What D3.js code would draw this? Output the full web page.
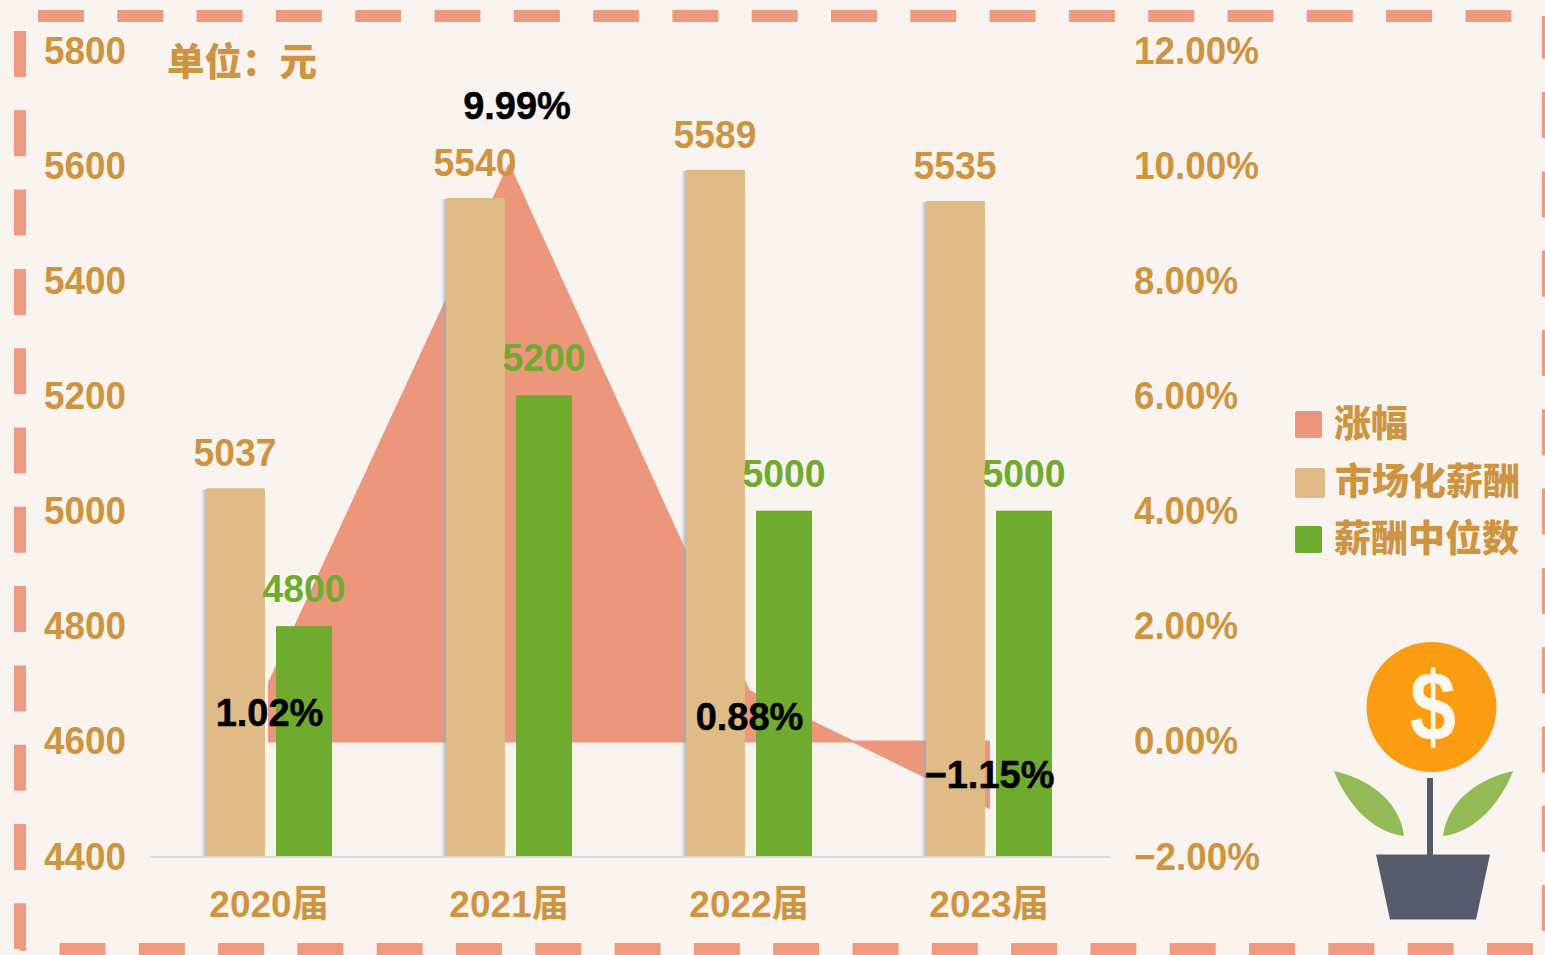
<!DOCTYPE html>
<html><head><meta charset="utf-8">
<script src="https://cdnjs.cloudflare.com/ajax/libs/d3/7.8.5/d3.min.js"></script>
<style>
html,body{margin:0;padding:0;background:#FAF4F0;overflow:hidden}
text{font-family:"Liberation Sans","Noto Sans CJK SC",sans-serif}
</style></head><body><svg id="c" width="1545" height="955"></svg>
<script>
const categories=["2020届","2021届","2022届","2023届"];
const marketPay=[5037,5540,5589,5535];
const medianPay=[4800,5200,5000,5000];
const growth=[1.02,9.99,0.88,-1.15];
const growthLabels=["1.02%","9.99%","0.88%","−1.15%"];
const leftTicks=[4400,4600,4800,5000,5200,5400,5600,5800];
const rightTicks=[-2,0,2,4,6,8,10,12];
const legendNames=["涨幅","市场化薪酬","薪酬中位数"];
const gold="#CE9440",tan="#E0BA87",green="#6FAB2E",salmon="#EC977C",dash="#EF9980";

const svg=d3.select("#c");
const defs=svg.append("defs");
const g=defs.append("linearGradient").attr("id","sh");
g.append("stop").attr("offset",0).attr("stop-color","#86AEC8").attr("stop-opacity",0);
g.append("stop").attr("offset",.5).attr("stop-color","#86AEC8").attr("stop-opacity",.45);
g.append("stop").attr("offset",1).attr("stop-color","#86AEC8").attr("stop-opacity",.9);

const x=d3.scaleBand().domain(categories).range([149,1109]);
const cx=c=>x(c)+x.bandwidth()/2;
const yL=d3.scaleLinear().domain([4400,5800]).range([857,49]);
const yR=d3.scaleLinear().domain([-2,12]).range([857,49]);

// area
const rows=categories.map((c,i)=>({c,m:marketPay[i],d:medianPay[i],g:growth[i],l:growthLabels[i]}));
svg.append("path").datum(rows)
 .attr("d",d3.area().x(d=>cx(d.c)).y0(yR(0)).y1(d=>yR(d.g)))
 .attr("fill",salmon).attr("stroke",salmon).attr("stroke-width",2).attr("stroke-linejoin","round");

// baseline
svg.append("line").attr("x1",150).attr("x2",1110).attr("y1",857).attr("y2",857).attr("stroke","#D9D9D9").attr("stroke-width",2);

// bars
const TW=59,GW=56;
svg.selectAll(".sh").data(rows).join("rect").attr("x",d=>cx(d.c)-68).attr("width",6)
 .attr("y",d=>yL(d.m)).attr("height",d=>856-yL(d.m)).attr("fill","url(#sh)");
svg.selectAll(".t").data(rows).join("rect").attr("x",d=>cx(d.c)-63).attr("width",TW)
 .attr("y",d=>yL(d.m)-1).attr("height",d=>857-yL(d.m)).attr("rx",1.5).attr("fill",tan);
svg.selectAll(".g").data(rows).join("rect").attr("x",d=>cx(d.c)+7).attr("width",GW)
 .attr("y",d=>yL(d.d)).attr("height",d=>856-yL(d.d)).attr("fill",green);

// axes
const aL=svg.append("g").attr("transform","translate(126,0)").call(d3.axisLeft(yL).tickValues(leftTicks).tickSize(0).tickPadding(0).tickFormat(d3.format("d")));
aL.select(".domain").remove();
aL.selectAll("text").attr("fill",gold).attr("font-size",38).attr("font-weight",700)
  .attr("textLength",82).attr("lengthAdjust","spacingAndGlyphs").attr("dy",d=>(12+(d-4400)/1400*2)+"px");
const fmtR=d=>d3.format(".2f")(d).replace("-","−")+"%";
const aR=svg.append("g").attr("transform","translate(1134,0)").call(d3.axisRight(yR).tickValues(rightTicks).tickSize(0).tickPadding(0).tickFormat(fmtR));
aR.select(".domain").remove();
aR.selectAll("text").attr("fill",gold).attr("font-size",38).attr("font-weight",700)
  .attr("dy",d=>(12+(d+2)/14*2)+"px")
  .attr("textLength",d=>Math.abs(d)>=10?125:(d<0?126:104)).attr("lengthAdjust","spacingAndGlyphs");
const aX=svg.append("g").attr("transform","translate(0,857)").call(d3.axisBottom(x).tickSize(0).tickPadding(0));
aX.select(".domain").remove();
aX.selectAll("text").attr("fill",gold).attr("font-size",37).attr("font-weight",700).attr("dy","0").attr("y",60);

// data labels
const lab=(cls,xf,yf,tf,col)=>svg.selectAll("."+cls).data(rows).join("text").attr("class",cls)
 .attr("x",xf).attr("y",yf).attr("text-anchor","middle").attr("font-size",38).attr("font-weight",700).attr("fill",col)
 .attr("textLength",83).attr("lengthAdjust","spacingAndGlyphs").text(tf);
lab("lm",d=>cx(d.c)-34,d=>yL(d.m)-23,d=>d.m,gold);
lab("ld",d=>cx(d.c)+35,d=>yL(d.d)-24,d=>d.d,green);
const gy=[726,119,730,788];
svg.selectAll(".lg").data(rows).join("text").attr("class","lg")
 .attr("x",d=>d.c===categories[1]?cx(d.c)+8:cx(d.c)+.5).attr("y",(d,i)=>gy[i]).attr("text-anchor","middle")
 .attr("font-size",38).attr("font-weight",700).attr("fill","#000").attr("stroke","#000").attr("stroke-width",.5).text(d=>d.l);

// unit
svg.append("text").attr("x",167).attr("y",75).attr("font-size",37.5).attr("font-weight",900).attr("fill",gold).attr("font-family","Noto Sans CJK SC").text("单位：元");

// legend
const lc=[salmon,tan,green],lw=[27,30,27],ly=[411,468,526],ty=[437,495,552],tx=[1334,1335,1334];
legendNames.forEach((n,i)=>{
 svg.append("rect").attr("x",1295).attr("y",ly[i]).attr("width",lw[i]).attr("height",lw[i]).attr("rx",2).attr("fill",lc[i]);
 svg.append("text").attr("x",tx[i]).attr("y",ty[i]).attr("font-size",37).attr("font-weight",900).attr("fill",gold).attr("font-family","Noto Sans CJK SC").text(n);
});

// dashed frame
const dl=(x1,y1,x2,y2,o)=>svg.append("line").attr("x1",x1).attr("y1",y1).attr("x2",x2).attr("y2",y2).attr("stroke",dash).attr("stroke-width",12).attr("stroke-dasharray","46 33.3").attr("stroke-dashoffset",o||0);
dl(38,16,1520,16);
dl(20,31,20,949);
dl(59.5,949,1545,949);
dl(1548,16,1548,940,3.2);
svg.append("rect").attr("x",20).attr("y",943).attr("width",6).attr("height",8).attr("fill",dash);

// plant icon
const p=svg.append("g");
p.append("circle").attr("cx",1431.5).attr("cy",707).attr("r",65).attr("fill","#FB9C12");
p.append("text").attr("transform","translate(1433,741) scale(.85,1)").attr("text-anchor","middle").attr("font-size",98).attr("font-weight",700).attr("fill","#FFF8F0").text("$");
p.append("rect").attr("x",1427).attr("y",778).attr("width",6).attr("height",80).attr("fill","#585B6E");
p.append("path").attr("d","M1376,854.5H1490L1476,919.5H1390Z").attr("fill","#585B6E");
p.append("path").attr("d","M1334,771C1365,778 1399,798 1404,836C1370,832 1345,800 1334,771Z").attr("fill","#93BB55");
p.append("path").attr("d","M1513,771C1482,778 1448,798 1443,836C1477,832 1502,800 1513,771Z").attr("fill","#93BB55");
</script></body></html>
